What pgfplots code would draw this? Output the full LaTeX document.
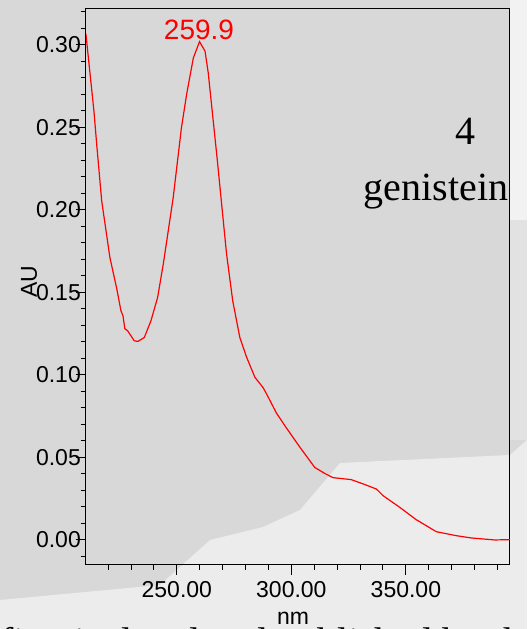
\documentclass[border=0pt]{standalone}
\usepackage{pgfplots}
\pgfplotsset{compat=1.18}
\usepackage{fontspec}
\setmainfont{Liberation Serif}
\setsansfont{Liberation Sans}
\definecolor{bgmid}{RGB}{216,216,216}
\definecolor{bglight}{RGB}{236,236,236}
\definecolor{bgright}{RGB}{242,242,242}
\definecolor{bgrmid}{RGB}{226,226,226}
\pgfplotstableread{
x y
210.3 0.3067
213.8 0.2600
215.0 0.2400
217.2 0.2054
220.8 0.1709
223.7 0.1527
225.6 0.1388
226.5 0.1357
227.3 0.1279
228.5 0.1267
231.4 0.1206
233.0 0.1202
235.8 0.1226
238.7 0.1327
241.6 0.1468
244.1 0.1673
248.4 0.2073
252.0 0.2497
254.3 0.2703
257.2 0.2921
259.9 0.3020
262.3 0.2963
263.7 0.2832
267.7 0.2297
271.7 0.1733
274.4 0.1448
277.5 0.1226
280.5 0.1105
284.1 0.0984
287.6 0.0923
289.2 0.0883
293.5 0.0767
297.9 0.0676
303.8 0.0559
310.2 0.0438
314.5 0.0402
318.2 0.0376
326.1 0.0364
331.3 0.0338
337.1 0.0307
340.0 0.0267
347.3 0.0196
354.5 0.0121
363.3 0.0048
372.0 0.0024
378.6 0.0010
388.8 -0.0002
395.4 0.0000
}\spectrum
\begin{document}
\begin{tikzpicture}[x=1pt,y=1pt]
\useasboundingbox (0,0) rectangle (263.5,314.5);
\fill[bgmid] (0,0) rectangle (263.5,314.5);
\fill[bglight] (0,14.5) -- (80,22) -- (105,44.5) -- (131.5,51) -- (150,59.5) -- (170,83) -- (255,87) -- (263.5,94.5) -- (263.5,0) -- (0,0) -- cycle;
\fill[bgright] (255,314.5) rectangle (263.5,204.5);
\fill[bgrmid] (255,204.5) rectangle (263.5,94.5);
\begin{scope}
\clip (0,0) rectangle (263.5,314.5);
\node[anchor=base west, inner sep=0pt, font=\fontsize{20}{24}\selectfont] at (0,-13) {fi{}rst isolated and published by the lab};
\end{scope}
\begin{axis}[
  at={(37.5,39)}, anchor=south west,
  scale only axis, width=212pt, height=278pt,
  xmin=210.3, xmax=395.4, ymin=-0.0152, ymax=0.322,
  axis line style={line width=0.6pt},
  xtick={250,300,350},
  minor xtick={220,230,240,260,270,280,290,310,320,330,340,360,370,380,390},
  ytick={0,0.05,0.1,0.15,0.2,0.25,0.3},
  minor ytick={-0.01,0.01,0.02,0.03,0.04,0.06,0.07,0.08,0.09,0.11,0.12,0.13,0.14,0.16,0.17,0.18,0.19,0.21,0.22,0.23,0.24,0.26,0.27,0.28,0.29,0.31,0.32},
  xtick pos=bottom, ytick pos=left,
  tick align=outside,
  major tick length=5pt, minor tick length=2.5pt,
  tick style={black, line width=0.5pt},
  /pgf/number format/assume math mode=true,
  xticklabel style={font=\sffamily\fontsize{11.5}{13}\selectfont, /pgf/number format/.cd, fixed, fixed zerofill, precision=2, 1000 sep={}},
  yticklabel style={xshift=6pt, font=\sffamily\fontsize{11.5}{13}\selectfont, /pgf/number format/.cd, fixed, fixed zerofill, precision=2},
  scaled y ticks=false, scaled x ticks=false,
  clip=true,
]
\addplot[red, line width=0.6pt, no markers] table[x=x, y=y] {\spectrum};
\end{axis}
\node[red, font=\sffamily\fontsize{14}{16}\selectfont] at (99.5,299.5) {259.9};
\node[rotate=90, font=\sffamily\fontsize{11.5}{13}\selectfont] at (14.5,173.5) {AU};
\node[font=\sffamily\fontsize{11.5}{13}\selectfont, anchor=base] at (146.5,2) {nm};
\node[font=\fontsize{20}{24}\selectfont] at (233,249) {4};
\node[font=\fontsize{20}{24}\selectfont, anchor=base] at (218,214.5) {genistein};
\end{tikzpicture}
\end{document}
